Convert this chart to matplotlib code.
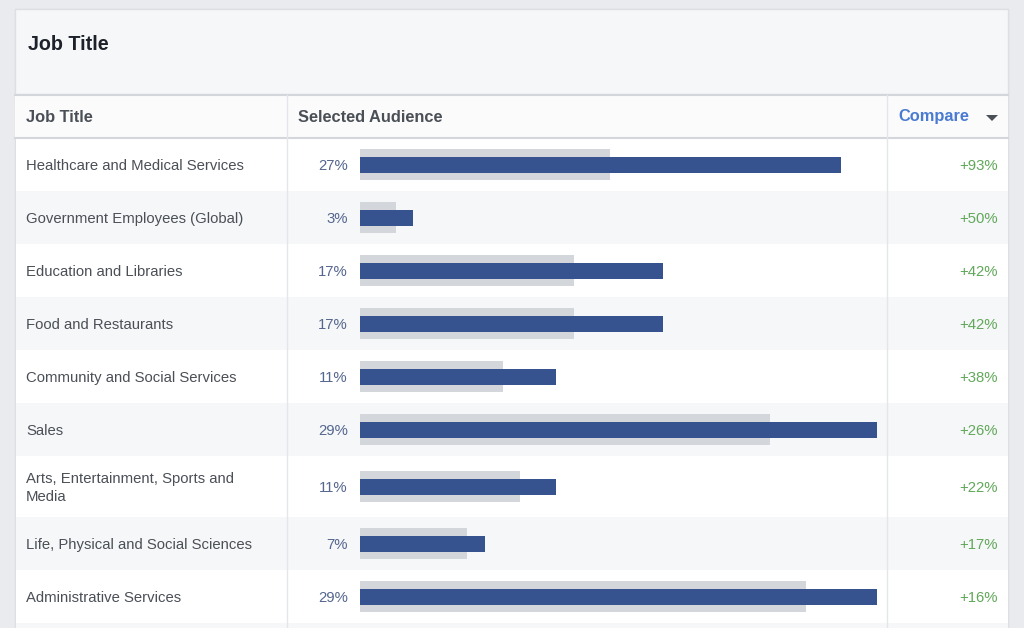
import matplotlib.pyplot as plt
from matplotlib.patches import Rectangle, Polygon

job_titles = [
    "Healthcare and Medical Services",
    "Government Employees (Global)",
    "Education and Libraries",
    "Food and Restaurants",
    "Community and Social Services",
    "Sales",
    "Arts, Entertainment, Sports and\nMedia",
    "Life, Physical and Social Sciences",
    "Administrative Services",
]
selected_pct = [27, 3, 17, 17, 11, 29, 11, 7, 29]   # blue bars
baseline_pct = [14, 2, 12, 12, 8, 23, 9, 6, 25]     # grey bars (comparison audience)
compare_pct = [93, 50, 42, 42, 38, 26, 22, 17, 16]

# layout in pixels
W, H = 1024, 628
row_h = [53, 53, 53, 53, 53, 53, 61, 53, 53]
table_top = 138
px_per_pct = 17.83
bar_x0 = 360
col1, col2 = 287, 887
card_l, card_r = 15, 1008

plt.rcParams['font.family'] = ['Liberation Sans', 'DejaVu Sans']

fig = plt.figure(figsize=(W / 100, H / 100), dpi=100)
fig.patch.set_facecolor('#e9ebee')
ax = fig.add_axes([0, 0, 1, 1])
ax.set_xlim(0, W)
ax.set_ylim(H, 0)
ax.axis('off')

# card
ax.add_patch(Rectangle((card_l, 9), card_r - card_l, H, facecolor='white',
                       edgecolor='#dddfe2', lw=1))
ax.add_patch(Rectangle((card_l, 9), card_r - card_l, 85, facecolor='#f6f7f9',
                       edgecolor='#dddfe2', lw=1))
ax.text(28, 44, "Job Title", fontsize=14.2, fontweight='bold', color='#1d2129',
        va='center', ha='left')

# header row
ax.add_patch(Rectangle((card_l, 94), card_r - card_l, 44, facecolor='#fbfbfc',
                       edgecolor='none'))
ax.plot([card_l, card_r], [94.5, 94.5], color='#d3d6db', lw=1.5)
ax.plot([card_l, card_r], [138, 138], color='#d3d6db', lw=1.5)
hdr_y = 117
ax.text(26, hdr_y, "Job Title", fontsize=11.8, fontweight='bold', color='#4b4f56', va='center')
ax.text(298, hdr_y, "Selected Audience", fontsize=11.8, fontweight='bold', color='#4b4f56',
        va='center')
ax.text(898, hdr_y, "Compare", fontsize=11.8, fontweight='bold', color='#4a7bd0', va='center')
ax.add_patch(Polygon([(986, 115), (998, 115), (992, 121)], closed=True,
                     facecolor='#4b4f56', edgecolor='none'))

# rows
centers = []
y = table_top
for i, h in enumerate(row_h + [20]):
    shade = '#f6f7f9' if i % 2 == 1 else 'white'
    ax.add_patch(Rectangle((card_l + 0.5, y), card_r - card_l - 1, h, facecolor=shade,
                           edgecolor='none'))
    if i < len(row_h):
        centers.append(y + h / 2)
    y += h

for x in (col1, col2):
    ax.plot([x, x], [94.5, H], color='#e5e6e9', lw=1)

for i, c in enumerate(centers):
    ax.text(26, c + 1.5, job_titles[i], fontsize=10.7, color='#4b4f56', va='center',
            linespacing=1.45)
    ax.text(348, c + 1.5, f"{selected_pct[i]}%", fontsize=10.7, color='#55668f',
            va='center', ha='right')
    ax.text(998, c + 1.5, f"+{compare_pct[i]}%", fontsize=10.7, color='#62a85a',
            va='center', ha='right')

# bars in percent units
bx = fig.add_axes([bar_x0 / W, 0, (col2 - bar_x0) / W, 1])
bx.set_xlim(0, (col2 - bar_x0) / px_per_pct)
bx.set_ylim(H, 0)
bx.axis('off')
bx.patch.set_alpha(0)
bx.barh(centers, baseline_pct, height=31, color='#d3d6db', left=0)
bx.barh(centers, selected_pct, height=16, color='#36528f', left=0)

fig.savefig('out.png', dpi=100, facecolor=fig.get_facecolor())
